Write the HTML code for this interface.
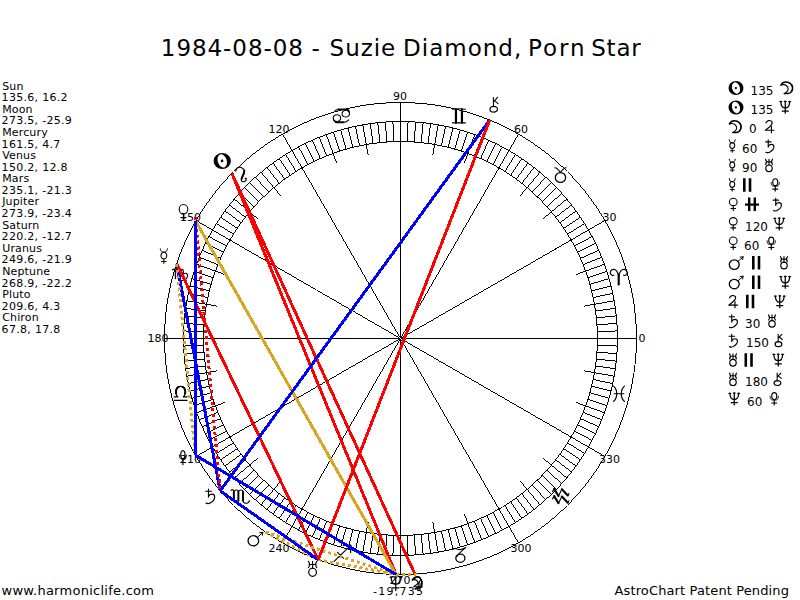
<!DOCTYPE html>
<html lang="en"><head><meta charset="utf-8"><title>1984-08-08 - Suzie Diamond, Porn Star</title>
<style>
html,body{margin:0;padding:0;background:#fff;}
body{width:800px;height:600px;overflow:hidden;}
#chart{display:block;width:800px;height:600px;}
#chart text{font-family:"DejaVu Sans","Liberation Sans",sans-serif;fill:#000;white-space:pre;}
</style></head><body>
<svg id="chart" width="800" height="600" viewBox="0 0 800 600">
<g fill="#000" stroke="none" shape-rendering="crispEdges">
<path d="M233.62 171.12A236 236 0 0 1 567.38 171.12L567.38 172.12A236 236 0 0 0 233.62 172.12ZM233.62 504.88A236 236 0 0 0 567.38 504.88L567.38 505.88A236 236 0 0 1 233.62 505.88ZM233.12 171.62A236 236 0 0 0 233.12 505.38L234.12 505.38A236 236 0 0 1 234.12 171.62ZM566.88 171.62A236 236 0 0 1 566.88 505.38L567.88 505.38A236 236 0 0 0 567.88 171.62Z"/>
<path d="M247.06 184.56A217 217 0 0 1 553.94 184.56L553.94 185.56A217 217 0 0 0 247.06 185.56ZM247.06 491.44A217 217 0 0 0 553.94 491.44L553.94 492.44A217 217 0 0 1 247.06 492.44ZM246.56 185.06A217 217 0 0 0 246.56 491.94L247.56 491.94A217 217 0 0 1 247.56 185.06ZM553.44 185.06A217 217 0 0 1 553.44 491.94L554.44 491.94A217 217 0 0 0 554.44 185.06Z"/>
<path d="M261.20 198.70A197 197 0 0 1 539.80 198.70L539.80 199.70A197 197 0 0 0 261.20 199.70ZM261.20 477.30A197 197 0 0 0 539.80 477.30L539.80 478.30A197 197 0 0 1 261.20 478.30ZM260.70 199.20A197 197 0 0 0 260.70 477.80L261.70 477.80A197 197 0 0 1 261.70 199.20ZM539.30 199.20A197 197 0 0 1 539.30 477.80L540.30 477.80A197 197 0 0 0 540.30 199.20Z"/>
<path d="M597.50 338.00L617.50 338.00L617.50 339.00L597.50 339.00ZM597.38 331.12L617.37 330.43L617.37 331.43L597.38 332.12ZM597.02 324.26L616.97 322.86L616.97 323.86L597.02 325.26ZM596.42 317.41L616.31 315.32L616.31 316.32L596.42 318.41ZM595.58 310.58L615.39 307.80L615.39 308.80L595.58 311.58ZM594.51 303.79L614.20 300.32L614.20 301.32L594.51 304.79ZM593.20 297.04L612.76 292.88L612.76 293.88L593.20 298.04ZM591.65 290.34L611.05 285.50L611.05 286.50L591.65 291.34ZM589.87 283.70L609.09 278.19L609.09 279.19L589.87 284.70ZM587.86 277.12L606.88 270.94L606.88 271.94L587.86 278.12ZM585.62 270.62L604.41 263.78L604.41 264.78L585.62 271.62ZM583.16 264.20L601.70 256.71L601.70 257.71L583.16 265.20ZM580.47 257.87L598.74 249.74L598.74 250.74L580.47 258.87ZM577.56 251.64L595.54 242.87L595.54 243.87L577.56 252.64ZM574.44 245.51L592.10 236.12L592.10 237.12L574.44 246.51ZM571.11 239.50L588.43 229.50L588.43 230.50L571.11 240.50ZM567.57 233.61L584.53 223.01L584.53 224.01L567.57 234.61ZM563.82 227.84L580.40 216.66L580.40 217.66L563.82 228.84ZM559.88 222.21L576.06 210.45L576.06 211.45L559.88 223.21ZM555.74 216.71L571.50 204.40L571.50 205.40L555.74 217.71ZM551.41 211.37L566.73 198.52L566.73 199.52L551.41 212.37ZM546.90 206.18L561.76 192.80L561.76 193.80L546.90 207.18ZM542.21 201.15L556.60 187.26L556.60 188.26L542.21 202.15ZM536.85 196.79L550.74 182.40L551.74 182.40L537.85 196.79ZM531.82 192.10L545.20 177.24L546.20 177.24L532.82 192.10ZM526.63 187.59L539.48 172.27L540.48 172.27L527.63 187.59ZM521.29 183.26L533.60 167.50L534.60 167.50L522.29 183.26ZM515.79 179.12L527.55 162.94L528.55 162.94L516.79 179.12ZM510.16 175.18L521.34 158.60L522.34 158.60L511.16 175.18ZM504.39 171.43L514.99 154.47L515.99 154.47L505.39 171.43ZM498.50 167.89L508.50 150.57L509.50 150.57L499.50 167.89ZM492.49 164.56L501.88 146.90L502.88 146.90L493.49 164.56ZM486.36 161.44L495.13 143.46L496.13 143.46L487.36 161.44ZM480.13 158.53L488.26 140.26L489.26 140.26L481.13 158.53ZM473.80 155.84L481.29 137.30L482.29 137.30L474.80 155.84ZM467.38 153.38L474.22 134.59L475.22 134.59L468.38 153.38ZM460.88 151.14L467.06 132.12L468.06 132.12L461.88 151.14ZM454.30 149.13L459.81 129.91L460.81 129.91L455.30 149.13ZM447.66 147.35L452.50 127.95L453.50 127.95L448.66 147.35ZM440.96 145.80L445.12 126.24L446.12 126.24L441.96 145.80ZM434.21 144.49L437.68 124.80L438.68 124.80L435.21 144.49ZM427.42 143.42L430.20 123.61L431.20 123.61L428.42 143.42ZM420.59 142.58L422.68 122.69L423.68 122.69L421.59 142.58ZM413.74 141.98L415.14 122.03L416.14 122.03L414.74 141.98ZM406.88 141.62L407.57 121.63L408.57 121.63L407.88 141.62ZM400.00 141.50L400.00 121.50L401.00 121.50L401.00 141.50ZM393.12 141.62L392.43 121.63L393.43 121.63L394.12 141.62ZM386.26 141.98L384.86 122.03L385.86 122.03L387.26 141.98ZM379.41 142.58L377.32 122.69L378.32 122.69L380.41 142.58ZM372.58 143.42L369.80 123.61L370.80 123.61L373.58 143.42ZM365.79 144.49L362.32 124.80L363.32 124.80L366.79 144.49ZM359.04 145.80L354.88 126.24L355.88 126.24L360.04 145.80ZM352.34 147.35L347.50 127.95L348.50 127.95L353.34 147.35ZM345.70 149.13L340.19 129.91L341.19 129.91L346.70 149.13ZM339.12 151.14L332.94 132.12L333.94 132.12L340.12 151.14ZM332.62 153.38L325.78 134.59L326.78 134.59L333.62 153.38ZM326.20 155.84L318.71 137.30L319.71 137.30L327.20 155.84ZM319.87 158.53L311.74 140.26L312.74 140.26L320.87 158.53ZM313.64 161.44L304.87 143.46L305.87 143.46L314.64 161.44ZM307.51 164.56L298.12 146.90L299.12 146.90L308.51 164.56ZM301.50 167.89L291.50 150.57L292.50 150.57L302.50 167.89ZM295.61 171.43L285.01 154.47L286.01 154.47L296.61 171.43ZM289.84 175.18L278.66 158.60L279.66 158.60L290.84 175.18ZM284.21 179.12L272.45 162.94L273.45 162.94L285.21 179.12ZM278.71 183.26L266.40 167.50L267.40 167.50L279.71 183.26ZM273.37 187.59L260.52 172.27L261.52 172.27L274.37 187.59ZM268.18 192.10L254.80 177.24L255.80 177.24L269.18 192.10ZM263.15 196.79L249.26 182.40L250.26 182.40L264.15 196.79ZM258.79 201.15L244.40 187.26L244.40 188.26L258.79 202.15ZM254.10 206.18L239.24 192.80L239.24 193.80L254.10 207.18ZM249.59 211.37L234.27 198.52L234.27 199.52L249.59 212.37ZM245.26 216.71L229.50 204.40L229.50 205.40L245.26 217.71ZM241.12 222.21L224.94 210.45L224.94 211.45L241.12 223.21ZM237.18 227.84L220.60 216.66L220.60 217.66L237.18 228.84ZM233.43 233.61L216.47 223.01L216.47 224.01L233.43 234.61ZM229.89 239.50L212.57 229.50L212.57 230.50L229.89 240.50ZM226.56 245.51L208.90 236.12L208.90 237.12L226.56 246.51ZM223.44 251.64L205.46 242.87L205.46 243.87L223.44 252.64ZM220.53 257.87L202.26 249.74L202.26 250.74L220.53 258.87ZM217.84 264.20L199.30 256.71L199.30 257.71L217.84 265.20ZM215.38 270.62L196.59 263.78L196.59 264.78L215.38 271.62ZM213.14 277.12L194.12 270.94L194.12 271.94L213.14 278.12ZM211.13 283.70L191.91 278.19L191.91 279.19L211.13 284.70ZM209.35 290.34L189.95 285.50L189.95 286.50L209.35 291.34ZM207.80 297.04L188.24 292.88L188.24 293.88L207.80 298.04ZM206.49 303.79L186.80 300.32L186.80 301.32L206.49 304.79ZM205.42 310.58L185.61 307.80L185.61 308.80L205.42 311.58ZM204.58 317.41L184.69 315.32L184.69 316.32L204.58 318.41ZM203.98 324.26L184.03 322.86L184.03 323.86L203.98 325.26ZM203.62 331.12L183.63 330.43L183.63 331.43L203.62 332.12ZM203.50 338.00L183.50 338.00L183.50 339.00L203.50 339.00ZM203.62 344.88L183.63 345.57L183.63 346.57L203.62 345.88ZM203.98 351.74L184.03 353.14L184.03 354.14L203.98 352.74ZM204.58 358.59L184.69 360.68L184.69 361.68L204.58 359.59ZM205.42 365.42L185.61 368.20L185.61 369.20L205.42 366.42ZM206.49 372.21L186.80 375.68L186.80 376.68L206.49 373.21ZM207.80 378.96L188.24 383.12L188.24 384.12L207.80 379.96ZM209.35 385.66L189.95 390.50L189.95 391.50L209.35 386.66ZM211.13 392.30L191.91 397.81L191.91 398.81L211.13 393.30ZM213.14 398.88L194.12 405.06L194.12 406.06L213.14 399.88ZM215.38 405.38L196.59 412.22L196.59 413.22L215.38 406.38ZM217.84 411.80L199.30 419.29L199.30 420.29L217.84 412.80ZM220.53 418.13L202.26 426.26L202.26 427.26L220.53 419.13ZM223.44 424.36L205.46 433.13L205.46 434.13L223.44 425.36ZM226.56 430.49L208.90 439.88L208.90 440.88L226.56 431.49ZM229.89 436.50L212.57 446.50L212.57 447.50L229.89 437.50ZM233.43 442.39L216.47 452.99L216.47 453.99L233.43 443.39ZM237.18 448.16L220.60 459.34L220.60 460.34L237.18 449.16ZM241.12 453.79L224.94 465.55L224.94 466.55L241.12 454.79ZM245.26 459.29L229.50 471.60L229.50 472.60L245.26 460.29ZM249.59 464.63L234.27 477.48L234.27 478.48L249.59 465.63ZM254.10 469.82L239.24 483.20L239.24 484.20L254.10 470.82ZM258.79 474.85L244.40 488.74L244.40 489.74L258.79 475.85ZM263.15 480.21L249.26 494.60L250.26 494.60L264.15 480.21ZM268.18 484.90L254.80 499.76L255.80 499.76L269.18 484.90ZM273.37 489.41L260.52 504.73L261.52 504.73L274.37 489.41ZM278.71 493.74L266.40 509.50L267.40 509.50L279.71 493.74ZM284.21 497.88L272.45 514.06L273.45 514.06L285.21 497.88ZM289.84 501.82L278.66 518.40L279.66 518.40L290.84 501.82ZM295.61 505.57L285.01 522.53L286.01 522.53L296.61 505.57ZM301.50 509.11L291.50 526.43L292.50 526.43L302.50 509.11ZM307.51 512.44L298.12 530.10L299.12 530.10L308.51 512.44ZM313.64 515.56L304.87 533.54L305.87 533.54L314.64 515.56ZM319.87 518.47L311.74 536.74L312.74 536.74L320.87 518.47ZM326.20 521.16L318.71 539.70L319.71 539.70L327.20 521.16ZM332.62 523.62L325.78 542.41L326.78 542.41L333.62 523.62ZM339.12 525.86L332.94 544.88L333.94 544.88L340.12 525.86ZM345.70 527.87L340.19 547.09L341.19 547.09L346.70 527.87ZM352.34 529.65L347.50 549.05L348.50 549.05L353.34 529.65ZM359.04 531.20L354.88 550.76L355.88 550.76L360.04 531.20ZM365.79 532.51L362.32 552.20L363.32 552.20L366.79 532.51ZM372.58 533.58L369.80 553.39L370.80 553.39L373.58 533.58ZM379.41 534.42L377.32 554.31L378.32 554.31L380.41 534.42ZM386.26 535.02L384.86 554.97L385.86 554.97L387.26 535.02ZM393.12 535.38L392.43 555.37L393.43 555.37L394.12 535.38ZM400.00 535.50L400.00 555.50L401.00 555.50L401.00 535.50ZM406.88 535.38L407.57 555.37L408.57 555.37L407.88 535.38ZM413.74 535.02L415.14 554.97L416.14 554.97L414.74 535.02ZM420.59 534.42L422.68 554.31L423.68 554.31L421.59 534.42ZM427.42 533.58L430.20 553.39L431.20 553.39L428.42 533.58ZM434.21 532.51L437.68 552.20L438.68 552.20L435.21 532.51ZM440.96 531.20L445.12 550.76L446.12 550.76L441.96 531.20ZM447.66 529.65L452.50 549.05L453.50 549.05L448.66 529.65ZM454.30 527.87L459.81 547.09L460.81 547.09L455.30 527.87ZM460.88 525.86L467.06 544.88L468.06 544.88L461.88 525.86ZM467.38 523.62L474.22 542.41L475.22 542.41L468.38 523.62ZM473.80 521.16L481.29 539.70L482.29 539.70L474.80 521.16ZM480.13 518.47L488.26 536.74L489.26 536.74L481.13 518.47ZM486.36 515.56L495.13 533.54L496.13 533.54L487.36 515.56ZM492.49 512.44L501.88 530.10L502.88 530.10L493.49 512.44ZM498.50 509.11L508.50 526.43L509.50 526.43L499.50 509.11ZM504.39 505.57L514.99 522.53L515.99 522.53L505.39 505.57ZM510.16 501.82L521.34 518.40L522.34 518.40L511.16 501.82ZM515.79 497.88L527.55 514.06L528.55 514.06L516.79 497.88ZM521.29 493.74L533.60 509.50L534.60 509.50L522.29 493.74ZM526.63 489.41L539.48 504.73L540.48 504.73L527.63 489.41ZM531.82 484.90L545.20 499.76L546.20 499.76L532.82 484.90ZM536.85 480.21L550.74 494.60L551.74 494.60L537.85 480.21ZM542.21 474.85L556.60 488.74L556.60 489.74L542.21 475.85ZM546.90 469.82L561.76 483.20L561.76 484.20L546.90 470.82ZM551.41 464.63L566.73 477.48L566.73 478.48L551.41 465.63ZM555.74 459.29L571.50 471.60L571.50 472.60L555.74 460.29ZM559.88 453.79L576.06 465.55L576.06 466.55L559.88 454.79ZM563.82 448.16L580.40 459.34L580.40 460.34L563.82 449.16ZM567.57 442.39L584.53 452.99L584.53 453.99L567.57 443.39ZM571.11 436.50L588.43 446.50L588.43 447.50L571.11 437.50ZM574.44 430.49L592.10 439.88L592.10 440.88L574.44 431.49ZM577.56 424.36L595.54 433.13L595.54 434.13L577.56 425.36ZM580.47 418.13L598.74 426.26L598.74 427.26L580.47 419.13ZM583.16 411.80L601.70 419.29L601.70 420.29L583.16 412.80ZM585.62 405.38L604.41 412.22L604.41 413.22L585.62 406.38ZM587.86 398.88L606.88 405.06L606.88 406.06L587.86 399.88ZM589.87 392.30L609.09 397.81L609.09 398.81L589.87 393.30ZM591.65 385.66L611.05 390.50L611.05 391.50L591.65 386.66ZM593.20 378.96L612.76 383.12L612.76 384.12L593.20 379.96ZM594.51 372.21L614.20 375.68L614.20 376.68L594.51 373.21ZM595.58 365.42L615.39 368.20L615.39 369.20L595.58 366.42ZM596.42 358.59L616.31 360.68L616.31 361.68L596.42 359.59ZM597.02 351.74L616.97 353.14L616.97 354.14L597.02 352.74ZM597.38 344.88L617.37 345.57L617.37 346.57L597.38 345.88Z"/>
<path d="M594.51 303.79L584.17 305.61L584.17 306.61L594.51 304.79ZM585.62 270.62L575.75 274.21L575.75 275.21L585.62 271.62ZM551.41 211.37L543.37 218.12L543.37 219.12L551.41 212.37ZM526.63 187.59L519.88 195.63L520.88 195.63L527.63 187.59ZM467.38 153.38L463.79 163.25L464.79 163.25L468.38 153.38ZM434.21 144.49L432.39 154.83L433.39 154.83L435.21 144.49ZM365.79 144.49L367.61 154.83L368.61 154.83L366.79 144.49ZM332.62 153.38L336.21 163.25L337.21 163.25L333.62 153.38ZM273.37 187.59L280.12 195.63L281.12 195.63L274.37 187.59ZM249.59 211.37L257.63 218.12L257.63 219.12L249.59 212.37ZM215.38 270.62L225.25 274.21L225.25 275.21L215.38 271.62ZM206.49 303.79L216.83 305.61L216.83 306.61L206.49 304.79ZM206.49 372.21L216.83 370.39L216.83 371.39L206.49 373.21ZM215.38 405.38L225.25 401.79L225.25 402.79L215.38 406.38ZM249.59 464.63L257.63 457.88L257.63 458.88L249.59 465.63ZM273.37 489.41L280.12 481.37L281.12 481.37L274.37 489.41ZM332.62 523.62L336.21 513.75L337.21 513.75L333.62 523.62ZM365.79 532.51L367.61 522.17L368.61 522.17L366.79 532.51ZM434.21 532.51L432.39 522.17L433.39 522.17L435.21 532.51ZM467.38 523.62L463.79 513.75L464.79 513.75L468.38 523.62ZM526.63 489.41L519.88 481.37L520.88 481.37L527.63 489.41ZM551.41 464.63L543.37 457.88L543.37 458.88L551.41 465.63ZM585.62 405.38L575.75 401.79L575.75 402.79L585.62 406.38ZM594.51 372.21L584.17 370.39L584.17 371.39L594.51 373.21Z"/>
<path d="M400.50 338.00L636.50 338.00L636.50 339.00L400.50 339.00ZM400.50 338.00L604.88 220.00L604.88 221.00L400.50 339.00ZM400.00 338.50L518.00 134.12L519.00 134.12L401.00 338.50ZM400.00 338.50L400.00 102.50L401.00 102.50L401.00 338.50ZM400.00 338.50L282.00 134.12L283.00 134.12L401.00 338.50ZM400.50 338.00L196.12 220.00L196.12 221.00L400.50 339.00ZM400.50 338.00L164.50 338.00L164.50 339.00L400.50 339.00ZM400.50 338.00L196.12 456.00L196.12 457.00L400.50 339.00ZM400.00 338.50L282.00 542.88L283.00 542.88L401.00 338.50ZM400.00 338.50L400.00 574.50L401.00 574.50L401.00 338.50ZM400.00 338.50L518.00 542.88L519.00 542.88L401.00 338.50ZM400.50 338.00L604.88 456.00L604.88 457.00L400.50 339.00Z"/>
</g>
<g font-size="11" text-anchor="middle">
<text x="642.0" y="342.1">0</text>
<text x="609.6" y="221.1">30</text>
<text x="521.0" y="132.5">60</text>
<text x="400.0" y="100.1">90</text>
<text x="279.0" y="132.5">120</text>
<text x="190.4" y="221.1">150</text>
<text x="158.0" y="342.1">180</text>
<text x="190.4" y="463.1">210</text>
<text x="279.0" y="551.7">240</text>
<text x="400.0" y="584.1">270</text>
<text x="521.0" y="551.7">300</text>
<text x="609.6" y="463.1">330</text>
</g>
<g>
<g role="img" aria-label="Aries"><path d="M618.70 274.59L618.70 284.45" fill="none" stroke="#000" stroke-width="2.20" stroke-linecap="round" stroke-linejoin="round"/><path d="M618.70 276.75C618.00 270.92 615.56 269.07 613.12 269.38C610.67 269.84 609.80 272.14 610.50 273.68C611.20 275.21 612.77 275.68 613.81 275.21M618.70 276.75C619.40 270.92 621.84 269.07 624.28 269.38C626.73 269.84 627.60 272.14 626.90 273.68C626.20 275.21 624.63 275.68 623.59 275.21" fill="none" stroke="#000" stroke-width="1.15" stroke-linecap="round" stroke-linejoin="round"/></g>
<g role="img" aria-label="Taurus"><path d="M555.32 177.44A5.15 4.93 0 1 0 565.63 177.44A5.15 4.93 0 1 0 555.32 177.44Z" fill="none" stroke="#000" stroke-width="1.25" stroke-linecap="round" stroke-linejoin="round"/><path d="M554.80 167.80C555.93 167.80 558.20 169.27 560.48 172.63C562.75 169.27 565.01 167.80 566.15 167.80" fill="none" stroke="#000" stroke-width="1.10" stroke-linecap="round" stroke-linejoin="round"/></g>
<g role="img" aria-label="Gemini"><path d="M455.96 109.39L455.96 122.71M461.94 109.39L461.94 122.71" fill="none" stroke="#000" stroke-width="2.20" stroke-linecap="round" stroke-linejoin="round"/><path d="M452.45 109.24C456.35 108.65 461.55 108.65 465.45 109.24M452.45 122.86L465.45 122.86" fill="none" stroke="#000" stroke-width="1.10" stroke-linecap="round" stroke-linejoin="round"/></g>
<g role="img" aria-label="Cancer"><path d="M342.08 113.68A3.71 3.22 0 1 0 349.49 113.68A3.71 3.22 0 1 0 342.08 113.68ZM333.26 118.07A3.71 3.22 0 1 0 340.67 118.07A3.71 3.22 0 1 0 333.26 118.07ZM334.31 111.77C335.37 110.31 336.79 109.43 338.55 109.28M347.55 109.43C349.14 110.02 349.67 111.48 349.49 113.68M333.26 118.07C333.26 120.27 334.31 121.73 336.08 122.47M343.49 122.47C345.79 122.17 347.55 121.15 348.79 119.83" fill="none" stroke="#000" stroke-width="1.10" stroke-linecap="round" stroke-linejoin="round"/><path d="M338.20 109.43L347.55 109.43M336.08 122.32L343.49 122.32" fill="none" stroke="#000" stroke-width="1.90" stroke-linecap="round" stroke-linejoin="round"/></g>
<g role="img" aria-label="Leo"><path d="M235.79 171.16C235.79 167.72 238.83 166.68 241.00 167.42C244.25 168.47 245.34 171.46 243.71 174.45C242.08 177.44 240.46 178.94 241.54 180.88C242.63 182.37 245.34 181.92 246.21 179.83C246.64 178.64 245.88 177.74 245.12 178.34" fill="none" stroke="#000" stroke-width="1.15" stroke-linecap="round" stroke-linejoin="round"/><path d="M244.27 170.70C244.49 173.25 242.31 175.95 241.65 178.65" fill="none" stroke="#000" stroke-width="2.00" stroke-linecap="round" stroke-linejoin="round"/></g>
<g role="img" aria-label="Virgo"><path d="M172.57 269.81C174.11 268.57 175.34 269.19 175.34 271.05L175.34 278.70M175.34 271.05C176.41 268.82 179.33 268.82 179.33 271.05L179.33 278.70M179.33 271.05C180.25 268.82 183.32 268.82 183.32 271.05L183.32 278.45C183.32 280.31 184.85 280.93 186.39 280.31M183.32 274.13C185.62 272.28 187.92 273.51 187.62 275.99C187.16 278.45 184.09 280.31 181.02 280.93" fill="none" stroke="#000" stroke-width="1.15" stroke-linecap="round" stroke-linejoin="round"/></g>
<g role="img" aria-label="Libra"><path d="M174.07 396.84L178.00 396.84C174.73 394.36 174.73 386.32 180.62 386.32C186.52 386.32 186.52 394.36 183.24 396.84L187.17 396.84" fill="none" stroke="#000" stroke-width="1.15" stroke-linecap="round" stroke-linejoin="round"/><path d="M174.10 400.32L187.15 400.32" fill="none" stroke="#000" stroke-width="1.20" stroke-linecap="round" stroke-linejoin="round"/><path d="M176.29 393.62C175.37 390.69 176.68 387.76 178.65 386.89M184.96 393.62C185.89 390.69 184.57 387.76 182.60 386.89" fill="none" stroke="#000" stroke-width="1.90" stroke-linecap="round" stroke-linejoin="round"/></g>
<g role="img" aria-label="Scorpio"><path d="M231.07 490.24C232.54 489.07 233.83 489.51 233.83 491.70L233.83 501.05M233.83 491.70C234.74 489.37 238.41 489.37 238.41 491.70L238.41 501.05M238.41 491.70C239.33 489.37 243.00 489.37 243.00 491.70L243.00 500.75C243.00 502.94 245.75 503.68 247.59 502.94C248.87 502.21 249.42 501.49 249.42 500.46" fill="none" stroke="#000" stroke-width="1.15" stroke-linecap="round" stroke-linejoin="round"/><path d="M233.81 491.98L233.81 500.77M238.41 491.98L238.41 500.77M243.01 491.98L243.01 500.48" fill="none" stroke="#000" stroke-width="1.90" stroke-linecap="round" stroke-linejoin="round"/></g>
<g role="img" aria-label="Sagittarius"><path d="M334.10 561.40L350.90 545.10M343.34 545.43L350.90 545.10L350.56 552.44M337.46 552.44L343.34 558.14" fill="none" stroke="#000" stroke-width="1.20" stroke-linecap="round" stroke-linejoin="round"/></g>
<g role="img" aria-label="Capricorn"><path d="M453.57 549.06C454.78 547.58 456.00 548.32 457.20 549.06C459.62 550.25 463.25 549.06 465.68 547.58C462.04 550.55 458.41 553.52 456.96 556.49" fill="none" stroke="#000" stroke-width="1.15" stroke-linecap="round" stroke-linejoin="round"/><path d="M455.80 558.23A4.54 4.12 0 1 0 464.88 558.23A4.54 4.12 0 1 0 455.80 558.23Z" fill="none" stroke="#000" stroke-width="1.30" stroke-linecap="round" stroke-linejoin="round"/></g>
<g role="img" aria-label="Aquarius"><path d="M552.55 491.63L554.19 488.55M558.45 496.25L561.90 489.01M567.80 495.48L568.95 493.48M552.55 498.87L554.19 495.79M558.45 503.49L561.90 496.25M567.80 502.72L568.95 500.72" fill="none" stroke="#000" stroke-width="1.10" stroke-linecap="round" stroke-linejoin="round"/><path d="M554.19 488.86L558.45 495.94M561.90 489.32L567.80 495.48M554.19 496.10L558.45 503.18M561.90 496.56L567.80 502.72" fill="none" stroke="#000" stroke-width="2.10" stroke-linecap="round" stroke-linejoin="round"/></g>
<g role="img" aria-label="Pisces"><path d="M613.62 386.12C617.80 389.94 617.80 397.56 613.62 401.38M624.38 386.12C620.20 389.94 620.20 397.56 624.38 401.38" fill="none" stroke="#000" stroke-width="1.25" stroke-linecap="round" stroke-linejoin="round"/><path d="M614.16 393.75L623.84 393.75" fill="none" stroke="#000" stroke-width="1.10" stroke-linecap="round" stroke-linejoin="round"/></g>
</g>
<g fill="none" stroke-width="3" shape-rendering="crispEdges">
<line x1="231.9" y1="173.4" x2="414.9" y2="574.1" stroke="#ff0000"/>
<line x1="231.9" y1="173.4" x2="396.0" y2="574.5" stroke="#ff0000"/>
<line x1="176.7" y1="263.6" x2="220.2" y2="490.8" stroke="#0000ff"/>
<line x1="176.7" y1="263.6" x2="318.2" y2="559.7" stroke="#ff0000"/>
<line x1="176.7" y1="263.6" x2="195.3" y2="455.1" stroke="#daa520" stroke-dasharray="3 3"/>
<line x1="195.3" y1="216.7" x2="220.2" y2="490.8" stroke="#ff0000" stroke-dasharray="3 3"/>
<line x1="195.7" y1="221.2" x2="396.0" y2="574.5" stroke="#daa520"/>
<line x1="195.7" y1="221.2" x2="195.3" y2="455.1" stroke="#0000ff"/>
<line x1="265.5" y1="532.1" x2="318.2" y2="559.7" stroke="#daa520" stroke-dasharray="3 3"/>
<line x1="265.5" y1="532.1" x2="396.0" y2="574.5" stroke="#daa520" stroke-dasharray="3 3"/>
<line x1="416.6" y1="574.0" x2="396.0" y2="574.5" stroke="#daa520" stroke-dasharray="3 3"/>
<line x1="220.2" y1="490.8" x2="318.2" y2="559.7" stroke="#0000ff"/>
<line x1="220.2" y1="490.8" x2="489.7" y2="120.0" stroke="#0000ff"/>
<line x1="318.2" y1="559.7" x2="396.0" y2="574.5" stroke="#daa520" stroke-dasharray="3 3"/>
<line x1="318.2" y1="559.7" x2="489.7" y2="120.0" stroke="#ff0000"/>
<line x1="396.0" y1="574.5" x2="195.3" y2="455.1" stroke="#0000ff"/>
</g>
<g>
<g role="img" aria-label="Sun"><path d="M213.60 160.95A8.65 8.05 0 1 0 230.90 160.95A8.65 8.05 0 1 0 213.60 160.95ZM217.97 162.34A4.50 6.76 -18 1 0 226.53 159.56A4.50 6.76 -18 1 0 217.97 162.34Z" fill="#000" fill-rule="evenodd"/><path d="M220.78 160.95A1.30 1.29 0 1 0 223.37 160.95A1.30 1.29 0 1 0 220.78 160.95Z" fill="#000" fill-rule="evenodd"/></g>
<g role="img" aria-label="Moon"><path d="M412.44 580.06C413.23 578.22 414.59 577.00 416.35 577.00C420.05 577.00 421.90 580.18 421.90 583.12C421.90 586.55 420.05 588.75 417.90 588.75L415.18 588.75" fill="none" stroke="#000" stroke-width="1.50" stroke-linecap="round" stroke-linejoin="round"/><path d="M412.25 580.09C415.10 579.08 417.12 580.34 417.94 582.37C418.95 584.90 417.63 587.43 415.10 588.95" fill="none" stroke="#000" stroke-width="1.10" stroke-linecap="round" stroke-linejoin="round"/><path d="M421.10 579.76C422.10 581.88 422.00 585.12 420.71 586.86" fill="none" stroke="#000" stroke-width="1.30" stroke-linecap="round" stroke-linejoin="round"/></g>
<g role="img" aria-label="Mercury"><path d="M160.31 248.75C160.77 251.70 162.31 252.29 163.85 252.29C165.39 252.29 166.93 251.70 167.39 248.75M163.85 259.07L163.85 263.50M161.54 261.58L166.16 261.58" fill="none" stroke="#000" stroke-width="1.00" stroke-linecap="round" stroke-linejoin="round"/><path d="M160.94 255.54A2.91 3.45 0 1 0 166.76 255.54A2.91 3.45 0 1 0 160.94 255.54Z" fill="none" stroke="#000" stroke-width="1.05" stroke-linecap="round" stroke-linejoin="round"/></g>
<g role="img" aria-label="Venus"><path d="M179.18 209.26A4.32 4.71 0 1 0 187.82 209.26A4.32 4.71 0 1 0 179.18 209.26Z" fill="none" stroke="#000" stroke-width="1.10" stroke-linecap="round" stroke-linejoin="round"/><path d="M183.50 213.97L183.50 220.25M180.87 217.58L186.13 217.58" fill="none" stroke="#000" stroke-width="1.10" stroke-linecap="round" stroke-linejoin="round"/></g>
<g role="img" aria-label="Mars"><path d="M248.05 540.78A5.32 5.07 0 1 0 258.69 540.78A5.32 5.07 0 1 0 248.05 540.78Z" fill="none" stroke="#000" stroke-width="1.30" stroke-linecap="round" stroke-linejoin="round"/><path d="M257.51 537.18L262.79 532.56M259.69 532.70L262.94 532.28L262.32 535.36" fill="none" stroke="#000" stroke-width="1.00" stroke-linecap="round" stroke-linejoin="round"/></g>
<g role="img" aria-label="Jupiter"><path d="M414.46 579.15C415.34 576.58 418.44 575.93 420.12 577.60C421.98 579.79 418.88 583.00 413.75 586.73L422.43 586.73M419.95 583.00L419.95 589.43" fill="none" stroke="#000" stroke-width="1.15" stroke-linecap="round" stroke-linejoin="round"/></g>
<g role="img" aria-label="Saturn"><path d="M208.47 489.07L208.47 497.25M205.57 491.26L211.56 491.26M208.47 496.67C209.63 493.45 214.45 493.16 214.65 496.67C214.84 500.02 212.33 501.63 210.88 502.51C209.44 503.53 207.50 503.97 205.96 503.09" fill="none" stroke="#000" stroke-width="1.15" stroke-linecap="round" stroke-linejoin="round"/></g>
<g role="img" aria-label="Uranus"><path d="M308.42 561.35Q310.70 564.50 308.42 567.65M316.78 561.35Q314.50 564.50 316.78 567.65M309.18 564.50L316.02 564.50M312.60 561.35L312.60 568.25" fill="none" stroke="#000" stroke-width="1.10" stroke-linecap="round" stroke-linejoin="round"/><path d="M308.75 572.28A3.85 4.02 0 1 0 316.45 572.28A3.85 4.02 0 1 0 308.75 572.28Z" fill="none" stroke="#000" stroke-width="1.20" stroke-linecap="round" stroke-linejoin="round"/></g>
<g role="img" aria-label="Neptune"><path d="M391.13 577.04C391.24 583.50 393.60 584.33 395.75 584.33C397.90 584.33 400.26 583.50 400.37 577.04M395.75 576.62L395.75 590.38M392.52 587.90L398.98 587.90M390.16 577.31L392.10 577.31M399.40 577.31L401.34 577.31M394.89 577.04L396.61 577.04" fill="none" stroke="#000" stroke-width="1.25" stroke-linecap="round" stroke-linejoin="round"/></g>
<g role="img" aria-label="Pluto"><path d="M180.75 454.70A2.13 3.88 0 1 0 185.00 454.70A2.13 3.88 0 1 0 180.75 454.70ZM182.88 458.58L182.88 464.68M180.74 462.46L185.00 462.46" fill="none" stroke="#000" stroke-width="1.15" stroke-linecap="round" stroke-linejoin="round"/><path d="M179.35 454.93C179.35 459.44 181.04 459.16 182.88 459.16C184.71 459.16 186.40 459.44 186.40 454.93" fill="none" stroke="#000" stroke-width="0.90" stroke-linecap="round" stroke-linejoin="round"/></g>
<g role="img" aria-label="Chiron"><path d="M493.42 97.45L493.42 106.59M493.42 101.88L497.54 97.45M494.49 100.70L498.04 103.64" fill="none" stroke="#000" stroke-width="1.10" stroke-linecap="round" stroke-linejoin="round"/><path d="M490.00 109.22A3.75 2.93 0 1 0 497.50 109.22A3.75 2.93 0 1 0 490.00 109.22Z" fill="none" stroke="#000" stroke-width="1.20" stroke-linecap="round" stroke-linejoin="round"/></g>
</g>
<text font-size="11" x="373" y="595" textLength="50" lengthAdjust="spacing">-19,735</text>
<g font-size="23">
<text x="160.8" y="55.5" textLength="142.2" lengthAdjust="spacing">1984-08-08</text>
<text x="311.5" y="55.5" textLength="9.5" lengthAdjust="spacing">-</text>
<text x="329.6" y="55.5" textLength="65.5" lengthAdjust="spacing">Suzie</text>
<text x="403.0" y="55.5" textLength="118.3" lengthAdjust="spacing">Diamond,</text>
<text x="528.0" y="55.5" textLength="56.5" lengthAdjust="spacing">Porn</text>
<text x="591.2" y="55.5" textLength="49.6" lengthAdjust="spacing">Star</text>
</g>
<g font-size="11">
<text x="2.2" y="89.6" letter-spacing="0.15">Sun</text>
<text x="1.6" y="101.2" letter-spacing="0.3">135.6, 16.2</text>
<text x="2.2" y="112.8" letter-spacing="0.15">Moon</text>
<text x="1.6" y="124.4" letter-spacing="0.3">273.5, -25.9</text>
<text x="2.2" y="135.9" letter-spacing="0.15">Mercury</text>
<text x="1.6" y="147.5" letter-spacing="0.3">161.5, 4.7</text>
<text x="2.2" y="159.1" letter-spacing="0.15">Venus</text>
<text x="1.6" y="170.7" letter-spacing="0.3">150.2, 12.8</text>
<text x="2.2" y="182.3" letter-spacing="0.15">Mars</text>
<text x="1.6" y="193.9" letter-spacing="0.3">235.1, -21.3</text>
<text x="2.2" y="205.4" letter-spacing="0.15">Jupiter</text>
<text x="1.6" y="217.0" letter-spacing="0.3">273.9, -23.4</text>
<text x="2.2" y="228.6" letter-spacing="0.15">Saturn</text>
<text x="1.6" y="240.2" letter-spacing="0.3">220.2, -12.7</text>
<text x="2.2" y="251.8" letter-spacing="0.15">Uranus</text>
<text x="1.6" y="263.4" letter-spacing="0.3">249.6, -21.9</text>
<text x="2.2" y="275.0" letter-spacing="0.15">Neptune</text>
<text x="1.6" y="286.5" letter-spacing="0.3">268.9, -22.2</text>
<text x="2.2" y="298.1" letter-spacing="0.15">Pluto</text>
<text x="1.6" y="309.7" letter-spacing="0.3">209.6, 4.3</text>
<text x="2.2" y="321.3" letter-spacing="0.15">Chiron</text>
<text x="1.6" y="332.9" letter-spacing="0.3">67.8, 17.8</text>
</g>
<g>
<g role="img" aria-label="Sun"><path d="M728.50 88.00A7.50 7.00 0 1 0 743.50 88.00A7.50 7.00 0 1 0 728.50 88.00ZM732.29 89.21A3.90 5.88 -18 1 0 739.71 86.79A3.90 5.88 -18 1 0 732.29 89.21Z" fill="#000" fill-rule="evenodd"/><path d="M734.73 88.00A1.12 1.12 0 1 0 736.98 88.00A1.12 1.12 0 1 0 734.73 88.00Z" fill="#000" fill-rule="evenodd"/></g>
<text font-family="Liberation Sans,sans-serif" font-size="12" x="750.6" y="94.5">135</text>
<g role="img" aria-label="Moon"><path d="M780.99 84.99C781.95 83.19 783.63 81.99 785.79 81.99C790.35 81.99 792.63 85.11 792.63 87.99C792.63 91.35 790.35 93.51 787.71 93.51L784.35 93.51" fill="none" stroke="#000" stroke-width="1.50" stroke-linecap="round" stroke-linejoin="round"/><path d="M780.80 85.02C784.27 84.03 786.75 85.27 787.74 87.25C788.98 89.73 787.37 92.21 784.27 93.70" fill="none" stroke="#000" stroke-width="1.10" stroke-linecap="round" stroke-linejoin="round"/><path d="M791.63 84.70C792.85 86.77 792.73 89.95 791.14 91.65" fill="none" stroke="#000" stroke-width="1.30" stroke-linecap="round" stroke-linejoin="round"/></g>
<g role="img" aria-label="Sun"><path d="M728.50 107.44A7.50 7.00 0 1 0 743.50 107.44A7.50 7.00 0 1 0 728.50 107.44ZM732.29 108.65A3.90 5.88 -18 1 0 739.71 106.23A3.90 5.88 -18 1 0 732.29 108.65Z" fill="#000" fill-rule="evenodd"/><path d="M734.73 107.44A1.12 1.12 0 1 0 736.98 107.44A1.12 1.12 0 1 0 734.73 107.44Z" fill="#000" fill-rule="evenodd"/></g>
<text font-family="Liberation Sans,sans-serif" font-size="12" x="750.6" y="113.9">135</text>
<g role="img" aria-label="Neptune"><path d="M780.84 101.43C780.95 107.19 783.20 107.92 785.25 107.92C787.30 107.92 789.55 107.19 789.66 101.43M785.25 101.06L785.25 113.31M782.17 111.11L788.33 111.11M779.92 101.68L781.76 101.68M788.74 101.68L790.58 101.68M784.43 101.43L786.07 101.43" fill="none" stroke="#000" stroke-width="1.25" stroke-linecap="round" stroke-linejoin="round"/></g>
<g role="img" aria-label="Moon"><path d="M729.49 123.87C730.45 122.07 732.13 120.87 734.29 120.87C738.85 120.87 741.13 123.99 741.13 126.87C741.13 130.23 738.85 132.39 736.21 132.39L732.85 132.39" fill="none" stroke="#000" stroke-width="1.50" stroke-linecap="round" stroke-linejoin="round"/><path d="M729.30 123.90C732.77 122.91 735.25 124.15 736.24 126.13C737.48 128.61 735.87 131.09 732.77 132.58" fill="none" stroke="#000" stroke-width="1.10" stroke-linecap="round" stroke-linejoin="round"/><path d="M740.13 123.58C741.35 125.65 741.23 128.83 739.64 130.53" fill="none" stroke="#000" stroke-width="1.30" stroke-linecap="round" stroke-linejoin="round"/></g>
<text font-family="Liberation Sans,sans-serif" font-size="12" x="749.1" y="133.4">0</text>
<g role="img" aria-label="Jupiter"><path d="M765.96 122.92C766.85 120.45 769.94 119.84 771.62 121.44C773.48 123.54 770.38 126.63 765.25 130.21L773.93 130.21M771.45 126.63L771.45 132.81" fill="none" stroke="#000" stroke-width="1.15" stroke-linecap="round" stroke-linejoin="round"/></g>
<g role="img" aria-label="Mercury"><path d="M729.26 139.82C729.65 142.32 730.95 142.82 732.25 142.82C733.55 142.82 734.85 142.32 735.24 139.82M732.25 148.57L732.25 152.32M730.30 150.69L734.20 150.69" fill="none" stroke="#000" stroke-width="1.00" stroke-linecap="round" stroke-linejoin="round"/><path d="M729.80 145.57A2.45 2.93 0 1 0 734.70 145.57A2.45 2.93 0 1 0 729.80 145.57Z" fill="none" stroke="#000" stroke-width="1.05" stroke-linecap="round" stroke-linejoin="round"/></g>
<text font-family="Liberation Sans,sans-serif" font-size="12" x="742.1" y="152.8">60</text>
<g role="img" aria-label="Saturn"><path d="M768.23 139.89L768.23 147.09M765.58 141.82L771.06 141.82M768.23 146.58C769.29 143.75 773.72 143.49 773.89 146.58C774.07 149.53 771.77 150.95 770.44 151.72C769.12 152.62 767.35 153.00 765.93 152.23" fill="none" stroke="#000" stroke-width="1.15" stroke-linecap="round" stroke-linejoin="round"/></g>
<g role="img" aria-label="Mercury"><path d="M729.26 159.26C729.65 161.76 730.95 162.26 732.25 162.26C733.55 162.26 734.85 161.76 735.24 159.26M732.25 168.01L732.25 171.76M730.30 170.13L734.20 170.13" fill="none" stroke="#000" stroke-width="1.00" stroke-linecap="round" stroke-linejoin="round"/><path d="M729.80 165.01A2.45 2.93 0 1 0 734.70 165.01A2.45 2.93 0 1 0 729.80 165.01Z" fill="none" stroke="#000" stroke-width="1.05" stroke-linecap="round" stroke-linejoin="round"/></g>
<text font-family="Liberation Sans,sans-serif" font-size="12" x="742.1" y="172.3">90</text>
<g role="img" aria-label="Uranus"><path d="M765.52 159.31Q767.42 161.91 765.52 164.52M772.48 159.31Q770.58 161.91 772.48 164.52M766.16 161.91L771.84 161.91M769.00 159.31L769.00 165.01" fill="none" stroke="#000" stroke-width="1.10" stroke-linecap="round" stroke-linejoin="round"/><path d="M765.80 168.34A3.20 3.32 0 1 0 772.20 168.34A3.20 3.32 0 1 0 765.80 168.34Z" fill="none" stroke="#000" stroke-width="1.20" stroke-linecap="round" stroke-linejoin="round"/></g>
<g role="img" aria-label="Mercury"><path d="M729.26 178.70C729.65 181.20 730.95 181.70 732.25 181.70C733.55 181.70 734.85 181.20 735.24 178.70M732.25 187.45L732.25 191.20M730.30 189.57L734.20 189.57" fill="none" stroke="#000" stroke-width="1.00" stroke-linecap="round" stroke-linejoin="round"/><path d="M729.80 184.45A2.45 2.93 0 1 0 734.70 184.45A2.45 2.93 0 1 0 729.80 184.45Z" fill="none" stroke="#000" stroke-width="1.05" stroke-linecap="round" stroke-linejoin="round"/></g>
<path d="M744.3 178.2V191.7M750.0 178.2V191.7" stroke="#000" stroke-width="2.6" fill="none"/>
<g role="img" aria-label="Pluto"><path d="M772.75 182.23A2.50 3.46 0 1 0 777.75 182.23A2.50 3.46 0 1 0 772.75 182.23ZM775.25 185.69L775.25 191.12M772.75 189.15L777.75 189.15" fill="none" stroke="#000" stroke-width="1.15" stroke-linecap="round" stroke-linejoin="round"/><path d="M771.12 182.43C771.12 186.46 773.10 186.21 775.25 186.21C777.40 186.21 779.38 186.46 779.38 182.43" fill="none" stroke="#000" stroke-width="0.90" stroke-linecap="round" stroke-linejoin="round"/></g>
<g role="img" aria-label="Venus"><path d="M729.39 201.91A3.86 3.72 0 1 0 737.11 201.91A3.86 3.72 0 1 0 729.39 201.91Z" fill="none" stroke="#000" stroke-width="1.10" stroke-linecap="round" stroke-linejoin="round"/><path d="M733.25 205.63L733.25 210.59M730.90 208.48L735.60 208.48" fill="none" stroke="#000" stroke-width="1.10" stroke-linecap="round" stroke-linejoin="round"/></g>
<path d="M749.2 197.6V211.1M754.8 197.6V211.1" stroke="#000" stroke-width="2.4" fill="none"/><path d="M745.0 204.6H759.0" stroke="#000" stroke-width="2.2" fill="none"/>
<g role="img" aria-label="Saturn"><path d="M775.73 198.22L775.73 205.41M773.08 200.14L778.56 200.14M775.73 204.90C776.79 202.07 781.22 201.81 781.39 204.90C781.57 207.85 779.27 209.27 777.94 210.04C776.62 210.94 774.85 211.32 773.43 210.55" fill="none" stroke="#000" stroke-width="1.15" stroke-linecap="round" stroke-linejoin="round"/></g>
<g role="img" aria-label="Venus"><path d="M729.39 221.35A3.86 3.72 0 1 0 737.11 221.35A3.86 3.72 0 1 0 729.39 221.35Z" fill="none" stroke="#000" stroke-width="1.10" stroke-linecap="round" stroke-linejoin="round"/><path d="M733.25 225.07L733.25 230.03M730.90 227.92L735.60 227.92" fill="none" stroke="#000" stroke-width="1.10" stroke-linecap="round" stroke-linejoin="round"/></g>
<text font-family="Liberation Sans,sans-serif" font-size="12" x="745.1" y="230.6">120</text>
<g role="img" aria-label="Neptune"><path d="M774.84 218.07C774.95 223.83 777.20 224.57 779.25 224.57C781.30 224.57 783.55 223.83 783.66 218.07M779.25 217.71L779.25 229.96M776.17 227.75L782.33 227.75M773.92 218.32L775.76 218.32M782.74 218.32L784.58 218.32M778.43 218.07L780.07 218.07" fill="none" stroke="#000" stroke-width="1.25" stroke-linecap="round" stroke-linejoin="round"/></g>
<g role="img" aria-label="Venus"><path d="M729.39 240.79A3.86 3.72 0 1 0 737.11 240.79A3.86 3.72 0 1 0 729.39 240.79Z" fill="none" stroke="#000" stroke-width="1.10" stroke-linecap="round" stroke-linejoin="round"/><path d="M733.25 244.51L733.25 249.47M730.90 247.36L735.60 247.36" fill="none" stroke="#000" stroke-width="1.10" stroke-linecap="round" stroke-linejoin="round"/></g>
<text font-family="Liberation Sans,sans-serif" font-size="12" x="744.1" y="250.0">60</text>
<g role="img" aria-label="Pluto"><path d="M768.75 240.55A2.50 3.46 0 1 0 773.75 240.55A2.50 3.46 0 1 0 768.75 240.55ZM771.25 244.01L771.25 249.44M768.75 247.47L773.75 247.47" fill="none" stroke="#000" stroke-width="1.15" stroke-linecap="round" stroke-linejoin="round"/><path d="M767.12 240.75C767.12 244.78 769.10 244.53 771.25 244.53C773.40 244.53 775.38 244.78 775.38 240.75" fill="none" stroke="#000" stroke-width="0.90" stroke-linecap="round" stroke-linejoin="round"/></g>
<g role="img" aria-label="Mars"><path d="M729.29 264.61A4.97 4.70 0 1 0 739.23 264.61A4.97 4.70 0 1 0 729.29 264.61Z" fill="none" stroke="#000" stroke-width="1.30" stroke-linecap="round" stroke-linejoin="round"/><path d="M738.13 261.27L743.07 256.98M740.16 257.11L743.21 256.72L742.63 259.58" fill="none" stroke="#000" stroke-width="1.00" stroke-linecap="round" stroke-linejoin="round"/></g>
<path d="M753.3 256.0V269.5M759.0 256.0V269.5" stroke="#000" stroke-width="2.6" fill="none"/>
<g role="img" aria-label="Uranus"><path d="M780.52 256.51Q782.42 259.11 780.52 261.72M787.48 256.51Q785.58 259.11 787.48 261.72M781.16 259.11L786.84 259.11M784.00 256.51L784.00 262.21" fill="none" stroke="#000" stroke-width="1.10" stroke-linecap="round" stroke-linejoin="round"/><path d="M780.80 265.54A3.20 3.32 0 1 0 787.20 265.54A3.20 3.32 0 1 0 780.80 265.54Z" fill="none" stroke="#000" stroke-width="1.20" stroke-linecap="round" stroke-linejoin="round"/></g>
<g role="img" aria-label="Mars"><path d="M729.29 284.05A4.97 4.70 0 1 0 739.23 284.05A4.97 4.70 0 1 0 729.29 284.05Z" fill="none" stroke="#000" stroke-width="1.30" stroke-linecap="round" stroke-linejoin="round"/><path d="M738.13 280.71L743.07 276.42M740.16 276.55L743.21 276.16L742.63 279.02" fill="none" stroke="#000" stroke-width="1.00" stroke-linecap="round" stroke-linejoin="round"/></g>
<path d="M753.3 275.4V288.9M759.0 275.4V288.9" stroke="#000" stroke-width="2.6" fill="none"/>
<g role="img" aria-label="Neptune"><path d="M780.84 276.39C780.95 282.15 783.20 282.88 785.25 282.88C787.30 282.88 789.55 282.15 789.66 276.39M785.25 276.02L785.25 288.27M782.17 286.07L788.33 286.07M779.92 276.64L781.76 276.64M788.74 276.64L790.58 276.64M784.43 276.39L786.07 276.39" fill="none" stroke="#000" stroke-width="1.25" stroke-linecap="round" stroke-linejoin="round"/></g>
<g role="img" aria-label="Jupiter"><path d="M729.46 297.89C730.35 295.42 733.44 294.80 735.12 296.40C736.98 298.50 733.88 301.59 728.75 305.17L737.43 305.17M734.95 301.59L734.95 307.77" fill="none" stroke="#000" stroke-width="1.15" stroke-linecap="round" stroke-linejoin="round"/></g>
<path d="M747.3 294.8V308.3M753.0 294.8V308.3" stroke="#000" stroke-width="2.6" fill="none"/>
<g role="img" aria-label="Neptune"><path d="M775.34 295.83C775.45 301.59 777.70 302.33 779.75 302.33C781.80 302.33 784.05 301.59 784.16 295.83M779.75 295.47L779.75 307.72M776.67 305.51L782.83 305.51M774.42 296.08L776.26 296.08M783.24 296.08L785.08 296.08M778.93 295.83L780.57 295.83" fill="none" stroke="#000" stroke-width="1.25" stroke-linecap="round" stroke-linejoin="round"/></g>
<g role="img" aria-label="Saturn"><path d="M731.73 314.86L731.73 322.05M729.08 316.78L734.56 316.78M731.73 321.54C732.79 318.71 737.22 318.45 737.39 321.54C737.57 324.49 735.27 325.91 733.94 326.68C732.62 327.58 730.85 327.96 729.43 327.19" fill="none" stroke="#000" stroke-width="1.15" stroke-linecap="round" stroke-linejoin="round"/></g>
<text font-family="Liberation Sans,sans-serif" font-size="12" x="745.1" y="327.8">30</text>
<g role="img" aria-label="Uranus"><path d="M768.52 314.83Q770.42 317.43 768.52 320.04M775.48 314.83Q773.58 317.43 775.48 320.04M769.16 317.43L774.84 317.43M772.00 314.83L772.00 320.53" fill="none" stroke="#000" stroke-width="1.10" stroke-linecap="round" stroke-linejoin="round"/><path d="M768.80 323.86A3.20 3.32 0 1 0 775.20 323.86A3.20 3.32 0 1 0 768.80 323.86Z" fill="none" stroke="#000" stroke-width="1.20" stroke-linecap="round" stroke-linejoin="round"/></g>
<g role="img" aria-label="Saturn"><path d="M731.73 334.30L731.73 341.49M729.08 336.22L734.56 336.22M731.73 340.98C732.79 338.15 737.22 337.89 737.39 340.98C737.57 343.93 735.27 345.35 733.94 346.12C732.62 347.02 730.85 347.40 729.43 346.63" fill="none" stroke="#000" stroke-width="1.15" stroke-linecap="round" stroke-linejoin="round"/></g>
<text font-family="Liberation Sans,sans-serif" font-size="12" x="746.1" y="347.2">150</text>
<g role="img" aria-label="Chiron"><path d="M778.16 334.27L778.16 341.96M778.16 337.99L781.86 334.27M779.12 337.00L782.30 339.48" fill="none" stroke="#000" stroke-width="1.10" stroke-linecap="round" stroke-linejoin="round"/><path d="M775.10 344.16A3.36 2.46 0 1 0 781.82 344.16A3.36 2.46 0 1 0 775.10 344.16Z" fill="none" stroke="#000" stroke-width="1.20" stroke-linecap="round" stroke-linejoin="round"/></g>
<g role="img" aria-label="Uranus"><path d="M729.52 353.71Q731.42 356.31 729.52 358.92M736.48 353.71Q734.58 356.31 736.48 358.92M730.16 356.31L735.84 356.31M733.00 353.71L733.00 359.41" fill="none" stroke="#000" stroke-width="1.10" stroke-linecap="round" stroke-linejoin="round"/><path d="M729.80 362.74A3.20 3.32 0 1 0 736.20 362.74A3.20 3.32 0 1 0 729.80 362.74Z" fill="none" stroke="#000" stroke-width="1.20" stroke-linecap="round" stroke-linejoin="round"/></g>
<path d="M745.8 353.2V366.7M751.5 353.2V366.7" stroke="#000" stroke-width="2.6" fill="none"/>
<g role="img" aria-label="Neptune"><path d="M773.84 354.15C773.95 359.91 776.20 360.65 778.25 360.65C780.30 360.65 782.55 359.91 782.66 354.15M778.25 353.79L778.25 366.04M775.17 363.83L781.33 363.83M772.92 354.40L774.76 354.40M781.74 354.40L783.58 354.40M777.43 354.15L779.07 354.15" fill="none" stroke="#000" stroke-width="1.25" stroke-linecap="round" stroke-linejoin="round"/></g>
<g role="img" aria-label="Uranus"><path d="M729.52 373.15Q731.42 375.75 729.52 378.36M736.48 373.15Q734.58 375.75 736.48 378.36M730.16 375.75L735.84 375.75M733.00 373.15L733.00 378.85" fill="none" stroke="#000" stroke-width="1.10" stroke-linecap="round" stroke-linejoin="round"/><path d="M729.80 382.18A3.20 3.32 0 1 0 736.20 382.18A3.20 3.32 0 1 0 729.80 382.18Z" fill="none" stroke="#000" stroke-width="1.20" stroke-linecap="round" stroke-linejoin="round"/></g>
<text font-family="Liberation Sans,sans-serif" font-size="12" x="745.1" y="386.1">180</text>
<g role="img" aria-label="Chiron"><path d="M777.16 373.15L777.16 380.84M777.16 376.87L780.86 373.15M778.12 375.88L781.30 378.36" fill="none" stroke="#000" stroke-width="1.10" stroke-linecap="round" stroke-linejoin="round"/><path d="M774.10 383.04A3.36 2.46 0 1 0 780.82 383.04A3.36 2.46 0 1 0 774.10 383.04Z" fill="none" stroke="#000" stroke-width="1.20" stroke-linecap="round" stroke-linejoin="round"/></g>
<g role="img" aria-label="Neptune"><path d="M729.84 393.03C729.95 398.79 732.20 399.53 734.25 399.53C736.30 399.53 738.55 398.79 738.66 393.03M734.25 392.67L734.25 404.92M731.17 402.71L737.33 402.71M728.92 393.28L730.76 393.28M737.74 393.28L739.58 393.28M733.43 393.03L735.07 393.03" fill="none" stroke="#000" stroke-width="1.25" stroke-linecap="round" stroke-linejoin="round"/></g>
<text font-family="Liberation Sans,sans-serif" font-size="12" x="747.1" y="405.5">60</text>
<g role="img" aria-label="Pluto"><path d="M771.75 396.07A2.50 3.46 0 1 0 776.75 396.07A2.50 3.46 0 1 0 771.75 396.07ZM774.25 399.53L774.25 404.97M771.75 402.99L776.75 402.99" fill="none" stroke="#000" stroke-width="1.15" stroke-linecap="round" stroke-linejoin="round"/><path d="M770.12 396.27C770.12 400.30 772.10 400.05 774.25 400.05C776.40 400.05 778.38 400.30 778.38 396.27" fill="none" stroke="#000" stroke-width="0.90" stroke-linecap="round" stroke-linejoin="round"/></g>
</g>
<g font-size="13">
<text x="1.5" y="595" textLength="152.5" lengthAdjust="spacing">www.harmoniclife.com</text>
<text x="614.5" y="595" textLength="174.5" lengthAdjust="spacing">AstroChart Patent Pending</text>
</g>
</svg>
</body></html>
